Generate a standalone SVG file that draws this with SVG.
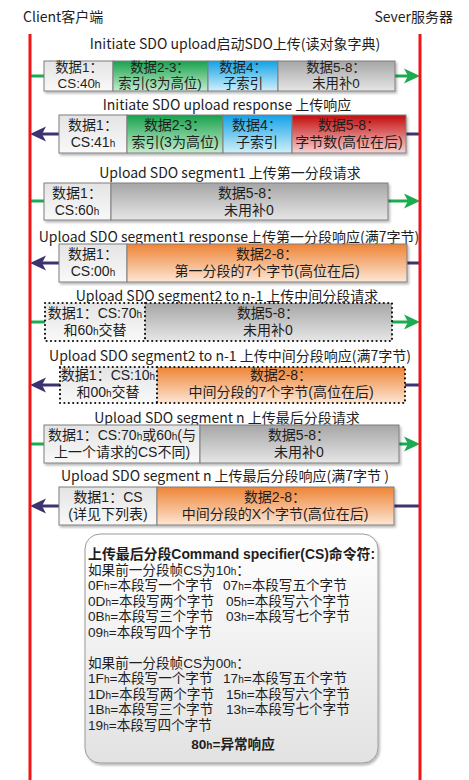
<svg xmlns="http://www.w3.org/2000/svg" width="469" height="780" viewBox="0 0 469 780">
  <style>
    text { font-family: "Noto Sans CJK SC", "Noto Sans", sans-serif; fill: #1e1e1e; }
    .hdr { font-size: 14px; }
    .title { font-size: 14px; text-anchor: middle; }
    .cell { font-family: "Liberation Sans", "Noto Sans CJK SC", sans-serif; font-size: 14px; text-anchor: middle; }
    .cell1 { font-size: 13.4px; }
    .note { font-family: "Liberation Sans", "Noto Sans CJK SC", sans-serif; font-size: 13.6px; }
    .head { font-size: 13.9px; font-weight: bold; }
    .bold { font-weight: bold; }
    .sub { font-size: 10px; }
    .frame { stroke: #7f7f7f; stroke-width: 1; }
    .dot { fill: none; stroke: #111; stroke-width: 2.2; stroke-dasharray: 0 4.4; stroke-linecap: round; }
    .req { stroke: #1cab50; stroke-width: 3; fill: none; }
    .rsp { stroke: #3e3270; stroke-width: 3; fill: none; }
    .life { stroke: #f01515; stroke-width: 3; }
  </style>
  <defs>
    <linearGradient id="gWhite" x1="0" y1="0" x2="0" y2="1">
      <stop offset="0" stop-color="#e4e4e4"/>
      <stop offset="1" stop-color="#f9f9f9"/>
    </linearGradient>
    <linearGradient id="gGreen" x1="0" y1="0" x2="0" y2="1">
      <stop offset="0" stop-color="#18a24c"/>
      <stop offset="1" stop-color="#c6ecd0"/>
    </linearGradient>
    <linearGradient id="gBlue" x1="0" y1="0" x2="0" y2="1">
      <stop offset="0" stop-color="#12a2e6"/>
      <stop offset="1" stop-color="#d2f0fb"/>
    </linearGradient>
    <linearGradient id="gGray" x1="0" y1="0" x2="0" y2="1">
      <stop offset="0" stop-color="#a6a6a6"/>
      <stop offset="1" stop-color="#e6e6e6"/>
    </linearGradient>
    <linearGradient id="gRed" x1="0" y1="0" x2="0" y2="1">
      <stop offset="0" stop-color="#c40a0a"/>
      <stop offset="1" stop-color="#f7d2d2"/>
    </linearGradient>
    <linearGradient id="gOrange" x1="0" y1="0" x2="0" y2="1">
      <stop offset="0" stop-color="#ee8436"/>
      <stop offset="1" stop-color="#fde6d4"/>
    </linearGradient>
    <linearGradient id="gNote" x1="0" y1="0" x2="0" y2="1">
      <stop offset="0" stop-color="#ffffff"/>
      <stop offset="1" stop-color="#e2e2e2"/>
    </linearGradient>
    <filter id="shadow" x="-5%" y="-20%" width="115%" height="150%">
      <feDropShadow dx="1.5" dy="2" stdDeviation="1.2" flood-color="#000" flood-opacity="0.28"/>
    </filter>
    <marker id="headReq" viewBox="0 0 16 16" refX="6" refY="8" markerWidth="16" markerHeight="16" markerUnits="userSpaceOnUse" orient="auto">
      <path d="M0,0.5 L16,8 L0,15.5 L4,8 z" fill="#1cab50"/>
    </marker>
    <marker id="headRsp" viewBox="0 0 16 16" refX="6" refY="8" markerWidth="16" markerHeight="16" markerUnits="userSpaceOnUse" orient="auto">
      <path d="M0,0.5 L16,8 L0,15.5 L4,8 z" fill="#3e3270"/>
    </marker>
  </defs>

  <rect width="469" height="780" fill="#ffffff"/>

  <!-- participants -->
  <g id="client">
    <text class="hdr" x="23" y="22">Client客户端</text>
  </g>
  <g id="server">
    <text class="hdr" x="453" y="22" text-anchor="end">Sever服务器</text>
  </g>

  <!-- message arrows: requests go right (green), responses go left (purple) -->
  <g id="connectors">
    <line class="req" x1="30" y1="76" x2="44" y2="76"/>
    <line class="req" x1="395" y1="76" x2="410" y2="76" marker-end="url(#headReq)"/>

    <line class="rsp" x1="59" y1="134" x2="40" y2="134" marker-end="url(#headRsp)"/>
    <line class="rsp" x1="406" y1="134" x2="420" y2="134"/>

    <line class="req" x1="30" y1="201" x2="44" y2="201"/>
    <line class="req" x1="388" y1="201" x2="410" y2="201" marker-end="url(#headReq)"/>

    <line class="rsp" x1="59" y1="263" x2="40" y2="263" marker-end="url(#headRsp)"/>
    <line class="rsp" x1="407" y1="263" x2="420" y2="263"/>

    <line class="req" x1="30" y1="322" x2="45" y2="322"/>
    <line class="req" x1="392" y1="322" x2="410" y2="322" marker-end="url(#headReq)"/>

    <line class="rsp" x1="60" y1="385" x2="40" y2="385" marker-end="url(#headRsp)"/>
    <line class="rsp" x1="405" y1="385" x2="420" y2="385"/>

    <line class="req" x1="30" y1="444" x2="44" y2="444"/>
    <line class="req" x1="399" y1="444" x2="410" y2="444" marker-end="url(#headReq)"/>

    <line class="rsp" x1="59" y1="506" x2="40" y2="506" marker-end="url(#headRsp)"/>
    <line class="rsp" x1="394" y1="506" x2="420" y2="506"/>
  </g>

  <!-- lifelines -->
  <g id="lifelines">
    <line class="life" x1="30" y1="34" x2="30" y2="780"/>
    <line class="life" x1="420" y1="34" x2="420" y2="780"/>
  </g>

  <!-- 1: initiate upload request -->
  <g id="msg-init-req">
    <text class="title" x="235" y="49">Initiate SDO upload启动SDO上传(读对象字典)</text>
    <g filter="url(#shadow)">
      <rect class="frame" x="44" y="61" width="69" height="30" fill="url(#gWhite)"/>
      <rect class="frame" x="113" y="61" width="95" height="30" fill="url(#gGreen)"/>
      <rect class="frame" x="208" y="61" width="70" height="30" fill="url(#gBlue)"/>
      <rect class="frame" x="278" y="61" width="117" height="30" fill="url(#gGray)"/>
    </g>
    <text class="cell cell1" x="79" y="72">数据1：</text>
    <text class="cell cell1" x="79" y="88">CS:40<tspan class="sub">h</tspan></text>
    <text class="cell cell1" x="160" y="72">数据2-3：</text>
    <text class="cell cell1" x="160" y="88">索引(3为高位)</text>
    <text class="cell cell1" x="243" y="72">数据4：</text>
    <text class="cell cell1" x="243" y="88">子索引</text>
    <text class="cell cell1" x="336" y="72">数据5-8：</text>
    <text class="cell cell1" x="336" y="88">未用补0</text>
  </g>

  <!-- 2: initiate upload response -->
  <g id="msg-init-rsp">
    <text class="title" x="227" y="110">Initiate SDO upload response 上传响应</text>
    <g filter="url(#shadow)">
      <rect class="frame" x="59" y="115" width="68" height="38" fill="url(#gWhite)"/>
      <rect class="frame" x="127" y="115" width="96" height="38" fill="url(#gGreen)"/>
      <rect class="frame" x="223" y="115" width="69" height="38" fill="url(#gBlue)"/>
      <rect class="frame" x="292" y="115" width="114" height="38" fill="url(#gRed)"/>
    </g>
    <text class="cell" x="93" y="130">数据1：</text>
    <text class="cell" x="93" y="147">CS:41<tspan class="sub">h</tspan></text>
    <text class="cell" x="175" y="130">数据2-3：</text>
    <text class="cell" x="175" y="147">索引(3为高位)</text>
    <text class="cell" x="257" y="130">数据4：</text>
    <text class="cell" x="257" y="147">子索引</text>
    <text class="cell" x="349" y="130">数据5-8：</text>
    <text class="cell" x="349" y="147">字节数(高位在后)</text>
  </g>

  <!-- 3: first segment request -->
  <g id="msg-seg1-req">
    <text class="title" x="230" y="178">Upload SDO segment1 上传第一分段请求</text>
    <g filter="url(#shadow)">
      <rect class="frame" x="44" y="183" width="67" height="37" fill="url(#gWhite)"/>
      <rect class="frame" x="111" y="183" width="277" height="37" fill="url(#gGray)"/>
    </g>
    <text class="cell" x="77" y="198">数据1：</text>
    <text class="cell" x="77" y="215">CS:60<tspan class="sub">h</tspan></text>
    <text class="cell" x="249" y="198">数据5-8：</text>
    <text class="cell" x="249" y="215">未用补0</text>
  </g>

  <!-- 4: first segment response -->
  <g id="msg-seg1-rsp">
    <text class="title" x="229" y="242">Upload SDO segment1 response上传第一分段响应(满7字节)</text>
    <g filter="url(#shadow)">
      <rect class="frame" x="59" y="244" width="68" height="38" fill="url(#gWhite)"/>
      <rect class="frame" x="127" y="244" width="280" height="38" fill="url(#gOrange)"/>
    </g>
    <text class="cell" x="93" y="259">数据1：</text>
    <text class="cell" x="93" y="276">CS:00<tspan class="sub">h</tspan></text>
    <text class="cell" x="267" y="259">数据2-8：</text>
    <text class="cell" x="267" y="276">第一分段的7个字节(高位在后)</text>
  </g>

  <!-- 5: middle segment request (dotted frame) -->
  <g id="msg-segmid-req">
    <text class="title" x="227" y="301">Upload SDO segment2 to n-1 上传中间分段请求</text>
    <rect x="45" y="303" width="100" height="38" fill="url(#gWhite)"/>
    <rect x="145" y="303" width="247" height="38" fill="url(#gGray)"/>
    <rect class="dot" x="45" y="303" width="347" height="38"/>
    <line class="dot" x1="145" y1="303" x2="145" y2="341"/>
    <text class="cell" x="95" y="318">数据1：CS:70<tspan class="sub">h</tspan></text>
    <text class="cell" x="95" y="335">和60<tspan class="sub">h</tspan>交替</text>
    <text class="cell" x="268" y="318">数据5-8：</text>
    <text class="cell" x="268" y="335">未用补0</text>
  </g>

  <!-- 6: middle segment response (dotted frame) -->
  <g id="msg-segmid-rsp">
    <text class="title" x="230" y="361">Upload SDO segment2 to n-1 上传中间分段响应(满7字节)</text>
    <rect x="60" y="367" width="97" height="36" fill="url(#gWhite)"/>
    <rect x="157" y="367" width="248" height="36" fill="url(#gOrange)"/>
    <rect class="dot" x="60" y="367" width="345" height="36"/>
    <line class="dot" x1="157" y1="367" x2="157" y2="403"/>
    <text class="cell" x="108" y="380">数据1：CS:10<tspan class="sub">h</tspan></text>
    <text class="cell" x="108" y="397">和00<tspan class="sub">h</tspan>交替</text>
    <text class="cell" x="281" y="380">数据2-8：</text>
    <text class="cell" x="281" y="397">中间分段的7个字节(高位在后)</text>
  </g>

  <!-- 7: last segment request -->
  <g id="msg-segn-req">
    <text class="title" x="227" y="423">Upload SDO segment n 上传最后分段请求</text>
    <g filter="url(#shadow)">
      <rect class="frame" x="44" y="425" width="156" height="38" fill="url(#gWhite)"/>
      <rect class="frame" x="200" y="425" width="199" height="38" fill="url(#gGray)"/>
    </g>
    <text class="cell" x="122" y="440">数据1：CS:70<tspan class="sub">h</tspan>或60<tspan class="sub">h</tspan>(与</text>
    <text class="cell" x="122" y="457">上一个请求的CS不同)</text>
    <text class="cell" x="299" y="440">数据5-8：</text>
    <text class="cell" x="299" y="457">未用补0</text>
  </g>

  <!-- 8: last segment response -->
  <g id="msg-segn-rsp">
    <text class="title" x="225" y="481">Upload SDO segment n 上传最后分段响应(满7字节 )</text>
    <g filter="url(#shadow)">
      <rect class="frame" x="59" y="487" width="98" height="38" fill="url(#gWhite)"/>
      <rect class="frame" x="157" y="487" width="237" height="38" fill="url(#gOrange)"/>
    </g>
    <text class="cell" x="108" y="502">数据1：CS</text>
    <text class="cell" x="108" y="519">(详见下列表)</text>
    <text class="cell" x="275" y="502">数据2-8：</text>
    <text class="cell" x="275" y="519">中间分段的X个字节(高位在后)</text>
  </g>

  <!-- command specifier table for the last segment -->
  <g id="cs-note">
    <rect x="85" y="534" width="293" height="229" rx="15" ry="15" fill="url(#gNote)" stroke="#9a9a9a" stroke-width="1" filter="url(#shadow)"/>
    <text class="note head" x="88" y="559">上传最后分段Command specifier(CS)命令符:</text>
    <text class="note" x="88" y="574.5">如果前一分段帧CS为10<tspan class="sub">h</tspan>：</text>
    <text class="note" x="88" y="590">0F<tspan class="sub">h</tspan>=本段写一个字节</text>
    <text class="note" x="223" y="590">07<tspan class="sub">h</tspan>=本段写五个字节</text>
    <text class="note" x="88" y="605.5">0D<tspan class="sub">h</tspan>=本段写两个字节</text>
    <text class="note" x="226" y="605.5">05<tspan class="sub">h</tspan>=本段写六个字节</text>
    <text class="note" x="88" y="621">0B<tspan class="sub">h</tspan>=本段写三个字节</text>
    <text class="note" x="226" y="621">03<tspan class="sub">h</tspan>=本段写七个字节</text>
    <text class="note" x="88" y="636.5">09<tspan class="sub">h</tspan>=本段写四个字节</text>
    <text class="note" x="88" y="667.5">如果前一分段帧CS为00<tspan class="sub">h</tspan>：</text>
    <text class="note" x="88" y="683">1F<tspan class="sub">h</tspan>=本段写一个字节</text>
    <text class="note" x="223" y="683">17<tspan class="sub">h</tspan>=本段写五个字节</text>
    <text class="note" x="88" y="698.5">1D<tspan class="sub">h</tspan>=本段写两个字节</text>
    <text class="note" x="226" y="698.5">15<tspan class="sub">h</tspan>=本段写六个字节</text>
    <text class="note" x="88" y="714">1B<tspan class="sub">h</tspan>=本段写三个字节</text>
    <text class="note" x="226" y="714">13<tspan class="sub">h</tspan>=本段写七个字节</text>
    <text class="note" x="88" y="729.5">19<tspan class="sub">h</tspan>=本段写四个字节</text>
    <text class="note bold" x="233" y="749" text-anchor="middle">80<tspan class="sub">h</tspan>=异常响应</text>
  </g>
</svg>
